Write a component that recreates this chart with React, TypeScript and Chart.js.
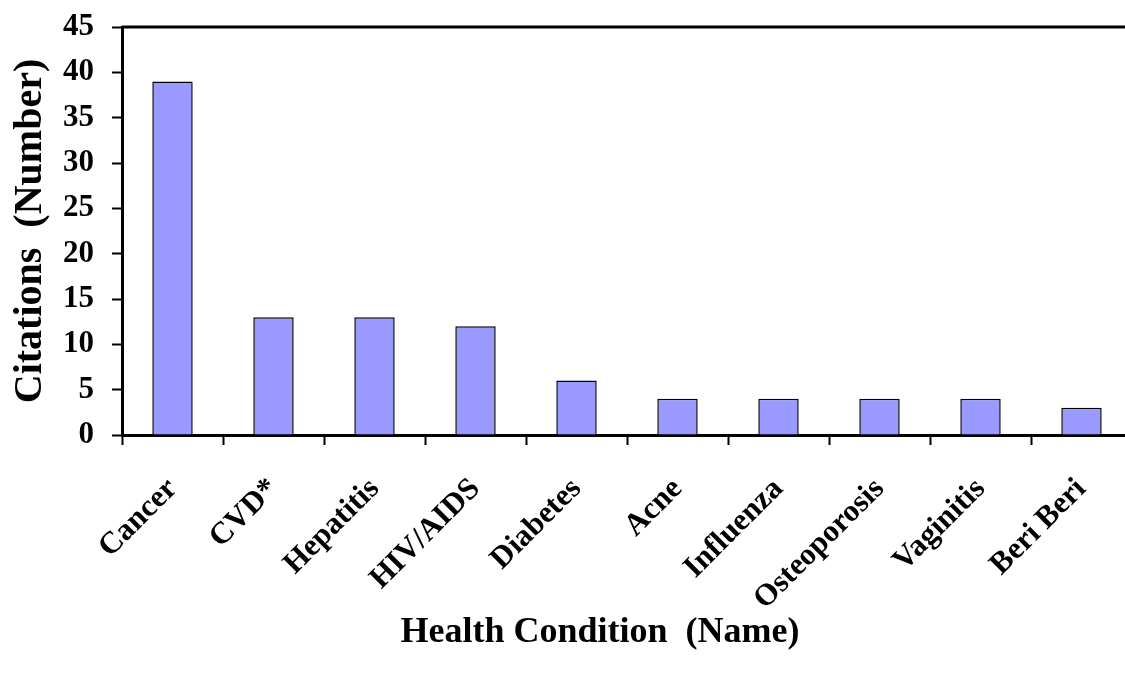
import React, { useEffect, useRef } from 'react';
import { Chart, registerables } from 'chart.js';

Chart.register(...registerables);

const categories = ['Cancer', 'CVD*', 'Hepatitis', 'HIV/AIDS', 'Diabetes', 'Acne', 'Influenza', 'Osteoporosis', 'Vaginitis', 'Beri Beri'];
const citations = [39, 13, 13, 12, 6, 4, 4, 4, 4, 3];
const yMin = 0;
const yMax = 45;
const yStep = 5;
const yTitle = 'Citations  (Number)';
const xTitle = 'Health Condition  (Name)';

const FONT = "'Times New Roman', 'Liberation Serif', serif";

const titlesPlugin = {
  id: 'titlesPlugin',
  afterDraw(chart: any) {
    const { ctx, chartArea } = chart;
    ctx.save();
    ctx.strokeStyle = '#000';
    ctx.lineWidth = 3;
    ctx.beginPath();
    ctx.moveTo(chartArea.left, chartArea.top);
    ctx.lineTo(chartArea.right, chartArea.top);
    ctx.stroke();
    ctx.fillStyle = '#000';
    ctx.font = `bold 40px ${FONT}`;
    ctx.textAlign = 'center';
    ctx.textBaseline = 'middle';
    ctx.translate(31, (chartArea.top + chartArea.bottom) / 2);
    ctx.rotate(-Math.PI / 2);
    ctx.fillText(yTitle, 0, 0);
    ctx.restore();
    ctx.save();
    ctx.fillStyle = '#000';
    ctx.font = `bold 36px ${FONT}`;
    ctx.textAlign = 'center';
    ctx.textBaseline = 'middle';
    ctx.fillText(xTitle, 600, 633);
    ctx.restore();
  },
};

export default function App() {
  const ref = useRef<HTMLCanvasElement>(null);
  useEffect(() => {
    if (!ref.current) return;
    const chart = new Chart(ref.current, {
      type: 'bar',
      data: {
        labels: categories,
        datasets: [
          {
            data: citations,
            backgroundColor: '#9999FF',
            borderColor: '#000000',
            borderWidth: 1.5,
            barPercentage: 0.4,
            categoryPercentage: 1,
          },
        ],
      },
      options: {
        responsive: false,
        animation: false,
        layout: { padding: { top: 27, right: 3, left: 0, bottom: 0 } },
        plugins: { legend: { display: false }, tooltip: { enabled: false } },
        scales: {
          x: {
            afterFit: (s: any) => { s.height = 673 - 435; },
            grid: { display: true, offset: true, drawOnChartArea: false, tickLength: 10, tickWidth: 2, tickColor: '#000' },
            border: { display: true, color: '#000', width: 3 },
            ticks: {
              autoSkip: false,
              minRotation: 45,
              maxRotation: 45,
              padding: 26,
              color: '#000',
              font: { family: FONT, size: 31, weight: 'bold' },
            },
          },
          y: {
            min: yMin,
            max: yMax,
            afterFit: (s: any) => { s.width = 122; s.paddingTop = 0; s.paddingBottom = 0; },
            grid: { display: true, drawOnChartArea: false, tickLength: 10, tickWidth: 2, tickColor: '#000' },
            border: { display: true, color: '#000', width: 3 },
            ticks: {
              stepSize: yStep,
              padding: 18,
              color: '#000',
              font: { family: FONT, size: 31, weight: 'bold' },
            },
          },
        },
      },
      plugins: [titlesPlugin],
    });
    return () => chart.destroy();
  }, []);
  return (
    <div style={{ position: 'fixed', left: 0, top: 0, width: 1125, height: 673, overflow: 'hidden', background: '#fff' }}>
      <canvas ref={ref} width={1135} height={673} style={{ display: 'block', width: 1135, height: 673 }} />
    </div>
  );
}
